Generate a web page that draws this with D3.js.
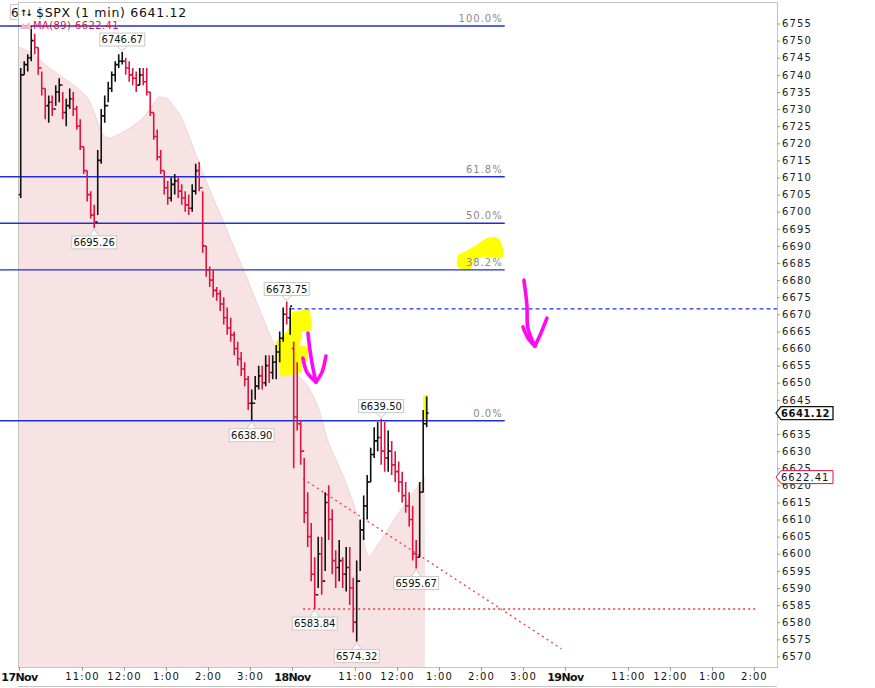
<!DOCTYPE html>
<html><head><meta charset="utf-8">
<script src="https://cdn.jsdelivr.net/npm/d3@7"></script>
<style>body{margin:0;background:#fff;} svg{display:block;}</style>
</head><body><svg id="c" width="875" height="688"></svg>
<script>
// ---------------- DATA ----------------
const days = ["17Nov", "18Nov", "19Nov"];
const sessionTickMinutes = [0, 90, 150, 210, 270, 330];
const sessionTickLabels = ["", "11:00", "12:00", "1:00", "2:00", "3:00"];
const minutesPerSession = 390;
const barMinutes = 5;

const sessionOpens = [6705, 6660];

const day1Highs = [6742,6744,6746,6754.3,6752,6748,6741,6736,6734,6734,
  6737,6739,6735,6733,6736,6735,6731,6727,6719,6712,
  6706,6702,6718,6730,6734,6738,6741,6744,6746,6746.67,
  6745,6744,6742,6741,6742,6742,6742,6735,6729,6724,
  6718,6712,6709,6710,6711,6710,6708,6706,6705,6708,
  6714,6714.5,6706,6690,6684,6683,6678,6677,6675,6672,
  6669,6665,6662,6659,6656,6652,6648,6652,6655,6655,
  6658,6658,6658,6661,6665,6672,6673.75,6672];
const day1Lows = [6704,6740,6741,6744,6746,6740,6734,6727,6726,6728,
  6731,6732,6727,6725,6730,6728,6724,6718,6711,6703,
  6698,6695.26,6699,6714,6726,6732,6735,6738,6742,6743,
  6740,6738,6737,6735,6737,6737,6734,6728,6721,6715,
  6711,6705,6702,6703,6705,6704,6702,6700,6699,6700,
  6705,6706,6688,6681,6678,6675,6674,6671,6667,6664,
  6662,6658,6655,6652,6649,6642,6638.9,6645,6648,6648,
  6649,6650,6651,6651,6656,6662,6667,6664];
const day1Closes = [6740,6743,6745,6750,6748,6742,6736,6731,6732,6730,
  6735,6737,6729,6731,6733,6730,6725,6719,6712,6705,
  6699,6697,6715,6728,6731,6736,6740,6743,6744,6744,
  6742,6740,6739,6737,6740,6738,6735,6729,6722,6716,
  6712,6707,6704,6708,6709,6706,6704,6702,6701,6706,
  6712,6707,6690,6683,6680,6677,6676,6673,6669,6666,
  6664,6660,6657,6654,6651,6644,6644,6649,6652,6650,
  6655,6653,6656,6659,6663,6670,6669,6672.4];

const day2Highs = [6662,6656,6639,6628,6618,6609,6599,6605,6605,6618,
  6620,6613,6601,6604,6599,6602,6602,6593,6598,6610,
  6617,6623,6631,6637,6638.5,6639.5,6638.5,6636,6633,6630,
  6627,6624,6621,6618,6614,6604,6621,6642,6646];
const day2Lows = [6625,6636,6626,6609,6602,6592,6583.84,6590,6588,6595,
  6604,6594,6590,6592,6590,6589,6585,6577,6574.32,6595,
  6604,6610,6621,6628,6630,6626,6624,6624,6623,6621,
  6618,6615,6612,6608,6598,6595.67,6599,6618,6637];
const day2Closes = [6640,6638,6630,6612,6605,6594,6588,6600,6592,6615,
  6610,6598,6596,6598,6594,6596,6590,6580,6592,6607,
  6614,6621,6629,6633,6634,6630,6628,6630,6626,6624,
  6621,6617,6614,6610,6600,6599,6618,6638,6641.12];

// MA(89), one value every 10 minutes from the first bar
const maStep = 10;
const maValues = [6748.1,6747.2,6746.0,6744.3,6742.5,6741.1,6739.6,6738.1,6736.7,6734.9,
  6732.6,6727.6,6722.6,6721.5,6722.3,6723.4,6724.7,6726.1,6728.2,6730.8,
  6733.5,6733.2,6731.1,6728.2,6723.5,6718.0,6712.7,6707.7,6702.7,6698.1,
  6693.1,6688.1,6683.4,6678.4,6673.2,6668.2,6663.2,6658.8,6655.9,6653.5,
  6651.8,6649.7,6646.2,6641.3,6633.7,6628.7,6624.3,6619.1,6613.2,6605.3,
  6599.2,6601.8,6604.8,6608.0,6611.2,6614.1,6617.1,6619.7,6622.41];

const lastPrice = 6641.12;
const lastMA = 6622.41;

const yTickValues = d3.range(6570, 6756, 5);

// Fibonacci retracement
const fibHigh = 6754.3, fibLow = 6638.9;
const fibLevels = [1, 0.618, 0.5, 0.382, 0];
const fibLabels = ["100.0%", "61.8%", "50.0%", "38.2%", "0.0%"];
const fibSpan = [-27, 694];

// drawn lines
const prevCloseLevel = 6671.6, prevCloseSpan = [388, 1083];
const supportLevel = 6583.84, supportSpan = [406, 1052];
const trendLine = [[406, 6621.9], [775, 6572.2]];

// swing labels: bar index, value, position
const callouts = [
  {bar: 29, v: 6746.67, pos: "above"},
  {bar: 21, v: 6695.26, pos: "below"},
  {bar: 76, v: 6673.75, pos: "above"},
  {bar: 66, v: 6638.90, pos: "below"},
  {bar: 103, v: 6639.50, pos: "above"},
  {bar: 84, v: 6583.84, pos: "below"},
  {bar: 96, v: 6574.32, pos: "below"},
  {bar: 113, v: 6595.67, pos: "below"}
];

// hand-drawn highlights (time index, value)
const yellowBlob = [[627,6687.3],[627,6683.8],[644,6683.0],[649,6685.0],[663,6686.8],[690,6686.5],[691,6689.7],[684,6692.3],[669,6692.3],[654,6690.3],[641,6688.8],[630,6687.6]];
const yellowStep = [[390,6670.7],[415.7,6671.6],[418.6,6665.4],[404.3,6664.8],[401.4,6661.0],[412.9,6660.5],[412.9,6656.1],[404.3,6655.8],[404.3,6653.1],[390,6652.3],[374.3,6651.7],[371.4,6655.2],[368.6,6659.0],[365.7,6661.9],[375.7,6663.4],[384.3,6665.4],[388.6,6668.3]];
const yellowLast = [[577.5,6646.4],[584.5,6639.1]];
const magentaArrows = [
  [[[412.9,6664.5],[415.7,6659.6],[420,6654.3],[424.3,6650.2]],
   [[405.7,6657.2],[411.4,6653.1],[424.3,6650.2]],
   [[424.3,6650.2],[432.9,6653.1],[438.6,6657.8]]],
  [[[721.4,6680.0],[725.7,6672.7],[727.1,6666.0],[737.1,6660.7]],
   [[720,6666.3],[727.1,6663.1],[737.1,6660.7]],
   [[737.1,6660.7],[745.7,6664.5],[754.3,6668.9]]]
];

// ---------------- CHART ----------------
const plot = {left: 18, right: 777, top: 2, bottom: 667};
const x = d3.scaleLinear().domain([-1.4, 1083]).range([plot.left, plot.right]);
const y = d3.scaleLinear().domain([6566.9, 6761.3]).range([plot.bottom, plot.top]);
const svg = d3.select("#c");
const FONT = "DejaVu Sans";
const RED = "#dc1440";

// bars
const highs = day1Highs.concat(day2Highs), lows = day1Lows.concat(day2Lows), closes = day1Closes.concat(day2Closes);
const n1 = day1Closes.length;
const bars = closes.map((c, i) => {
  const o = i === 0 ? sessionOpens[0] : (i === n1 ? sessionOpens[1] : closes[i - 1]);
  return {i, t: i * barMinutes + barMinutes / 2, o, h: highs[i], l: lows[i], c};
});

// MA area
const maPts = maValues.map((v, k) => ({t: k * maStep, v}));
svg.append("path").datum(maPts)
  .attr("d", d3.area().x(d => x(d.t)).y0(plot.bottom).y1(d => y(d.v)).curve(d3.curveMonotoneX))
  .attr("fill", "#f8e3e4");
svg.append("path").datum(maPts)
  .attr("d", d3.line().x(d => x(d.t)).y(d => y(d.v)).curve(d3.curveMonotoneX))
  .attr("fill", "none").attr("stroke", "#f2d2d6").attr("stroke-width", 1);

// frame
svg.append("rect").attr("x", plot.left + 0.5).attr("y", plot.top + 0.5)
  .attr("width", plot.right - plot.left).attr("height", plot.bottom - plot.top)
  .attr("fill", "none").attr("stroke", "#c4c4c4");
svg.append("line").attr("x1", plot.left).attr("x2", plot.right).attr("y1", 686.5).attr("y2", 686.5).attr("stroke", "#c4c4c4");

// yellow highlights (under marks)
svg.append("path").datum(yellowBlob)
  .attr("d", d3.line().x(d => x(d[0])).y(d => y(d[1])).curve(d3.curveCardinalClosed))
  .attr("fill", "#ffff00");
svg.append("path").datum(yellowStep)
  .attr("d", d3.line().x(d => x(d[0])).y(d => y(d[1])).curve(d3.curveLinearClosed))
  .attr("fill", "#ffff00");
svg.append("rect").attr("x", x(yellowLast[0][0])).attr("y", y(yellowLast[0][1]))
  .attr("width", x(yellowLast[1][0]) - x(yellowLast[0][0]))
  .attr("height", y(yellowLast[1][1]) - y(yellowLast[0][1]))
  .attr("fill", "#ffff00");

// fib lines
const fibG = svg.append("g");
fibLevels.forEach((lv, k) => {
  const v = fibLow + lv * (fibHigh - fibLow);
  fibG.append("line").attr("x1", x(fibSpan[0])).attr("x2", x(fibSpan[1]))
    .attr("y1", y(v)).attr("y2", y(v)).attr("stroke", "#1f2ed8").attr("stroke-width", 1.4);
  fibG.append("text").attr("x", x(fibSpan[1]) - 2).attr("y", y(v) - 4)
    .attr("text-anchor", "end").attr("font-family", FONT).attr("font-size", 10)
    .attr("letter-spacing", 1).attr("fill", "#8a8a8a").text(fibLabels[k]);
});

// dashed previous close
svg.append("line").attr("x1", x(prevCloseSpan[0])).attr("x2", x(prevCloseSpan[1]))
  .attr("y1", y(prevCloseLevel)).attr("y2", y(prevCloseLevel))
  .attr("stroke", "#2030ee").attr("stroke-width", 1.2).attr("stroke-dasharray", "4,3");
// red dotted support and trend
svg.append("line").attr("x1", x(supportSpan[0])).attr("x2", x(supportSpan[1]))
  .attr("y1", y(supportLevel)).attr("y2", y(supportLevel))
  .attr("stroke", "#f03a3a").attr("stroke-width", 1.4).attr("stroke-dasharray", "2,3");
svg.append("line").attr("x1", x(trendLine[0][0])).attr("x2", x(trendLine[1][0]))
  .attr("y1", y(trendLine[0][1])).attr("y2", y(trendLine[1][1]))
  .attr("stroke", "#f04848").attr("stroke-width", 1.4).attr("stroke-dasharray", "2,3.5");

// OHLC bars
const tick = 1.9;
svg.append("g").selectAll("path").data(bars).join("path")
  .attr("d", d => {
    const cx = x(d.t);
    return `M${cx},${y(d.h)}V${y(d.l)}M${cx - tick},${y(d.o)}H${cx}M${cx},${y(d.c)}H${cx + tick}`;
  })
  .attr("fill", "none")
  .attr("stroke", d => d.c >= d.o ? "#111" : RED)
  .attr("stroke-width", 1.6);

// callouts
const cg = svg.append("g").attr("font-family", FONT).attr("font-size", 10);
callouts.forEach(c => {
  const cx = x(bars[c.bar].t), py = y(c.v);
  const bw = 45, bh = 13;
  let top, tip, base;
  if (c.pos === "above") { tip = py - 1; base = py - 6; top = base - bh; }
  else { tip = py + 1; base = py + 8; top = base; }
  cg.append("path").attr("d", `M${cx - 5},${base}L${cx},${tip}L${cx + 5},${base}`)
    .attr("fill", "#fff").attr("stroke", "#c8c8c8");
  cg.append("rect").attr("x", cx - bw / 2).attr("y", top).attr("width", bw).attr("height", bh)
    .attr("fill", "#fff").attr("stroke", "#c8c8c8");
  cg.append("text").attr("x", cx).attr("y", top + bh / 2 + 3.6).attr("text-anchor", "middle")
    .attr("fill", "#111").text(c.v.toFixed(2));
});

// magenta arrows
const ml = d3.line().x(d => x(d[0])).y(d => y(d[1])).curve(d3.curveCatmullRom);
magentaArrows.forEach(a => a.forEach(s => {
  svg.append("path").datum(s).attr("d", ml).attr("fill", "none")
    .attr("stroke", "#ff0af0").attr("stroke-width", 3.6)
    .attr("stroke-linecap", "round").attr("stroke-linejoin", "round");
}));

// right axis (label hidden behind the last-price tag is left out, as in the original)
const hiddenTick = Math.round(lastPrice / 5) * 5;
const gy = svg.append("g").attr("transform", `translate(${plot.right},0)`)
  .call(d3.axisRight(y).tickValues(yTickValues).tickSize(3).tickPadding(2)
    .tickFormat(d => d === hiddenTick ? "" : d3.format("d")(d)));
gy.select(".domain").remove();
gy.selectAll("line").attr("stroke", "#999");
gy.selectAll("text").attr("font-family", FONT).attr("font-size", 10)
  .attr("letter-spacing", 1.1).attr("fill", "#222");

// bottom axis
const xTicks = [];
days.forEach((d, di) => sessionTickMinutes.forEach((m, k) => {
  const t = di * minutesPerSession + m;
  if (t <= x.domain()[1]) xTicks.push({t, label: k === 0 ? d : sessionTickLabels[k], day: k === 0});
}));
const gx = svg.append("g").attr("transform", `translate(0,${plot.bottom})`)
  .call(d3.axisBottom(x).tickValues(xTicks.map(d => d.t)).tickSize(4).tickPadding(2)
    .tickFormat((t, i) => xTicks[i].label));
gx.select(".domain").remove();
gx.selectAll("line").attr("stroke", "#999");
gx.selectAll("text").attr("font-family", FONT)
  .attr("font-size", (t, i) => xTicks[i].day ? 11 : 10)
  .attr("font-weight", (t, i) => xTicks[i].day ? "bold" : "normal")
  .attr("letter-spacing", (t, i) => xTicks[i].day ? -0.6 : 1.1)
  .attr("fill", "#111");

// price & MA value tags on axis
function tag(v, stroke, bold) {
  const yc = y(v);
  svg.append("path").attr("d", `M${plot.right - 1},${yc}L${plot.right + 4},${yc - 6.5}H833V${yc + 6.5}H${plot.right + 4}Z`)
    .attr("fill", "#fff").attr("stroke", stroke).attr("stroke-width", bold ? 1.3 : 1);
  svg.append("text").attr("x", plot.right + 4).attr("y", yc + 3.7)
    .attr("font-family", FONT).attr("font-size", 10).attr("font-weight", bold ? "bold" : "normal")
    .attr("letter-spacing", bold ? 0.5 : 1).attr("fill", "#111").text(v.toFixed(2));
}
tag(lastMA, RED, false);
tag(lastPrice, "#111", true);

// title / legend
svg.append("rect").attr("x", 10.5).attr("y", 4.5).attr("width", 8).attr("height", 15)
  .attr("fill", "#fff").attr("stroke", "#ccc");
svg.append("text").attr("x", 11).attr("y", 17).attr("font-family", FONT).attr("font-size", 12)
  .attr("fill", "#111").text("6");
svg.append("text").attr("x", 20).attr("y", 16).attr("font-family", FONT).attr("font-size", 9)
  .attr("font-weight", "bold").attr("letter-spacing", -2).attr("fill", "#111").text("↑↓");
svg.append("text").attr("x", 36).attr("y", 17).attr("font-family", FONT).attr("font-size", 12.5)
  .attr("letter-spacing", 0.7).attr("fill", "#111").text(`$SPX (1 min) ${lastPrice.toFixed(2)}`);
svg.append("path").attr("d", "M20,29L23,23L26,26L29,22L32,29Z").attr("fill", "#f4b8c2");
svg.append("text").attr("x", 33).attr("y", 29).attr("font-family", FONT).attr("font-size", 10)
  .attr("letter-spacing", 0.4).attr("fill", RED).text(`MA(89) ${lastMA.toFixed(2)}`);
</script>
</body></html>
